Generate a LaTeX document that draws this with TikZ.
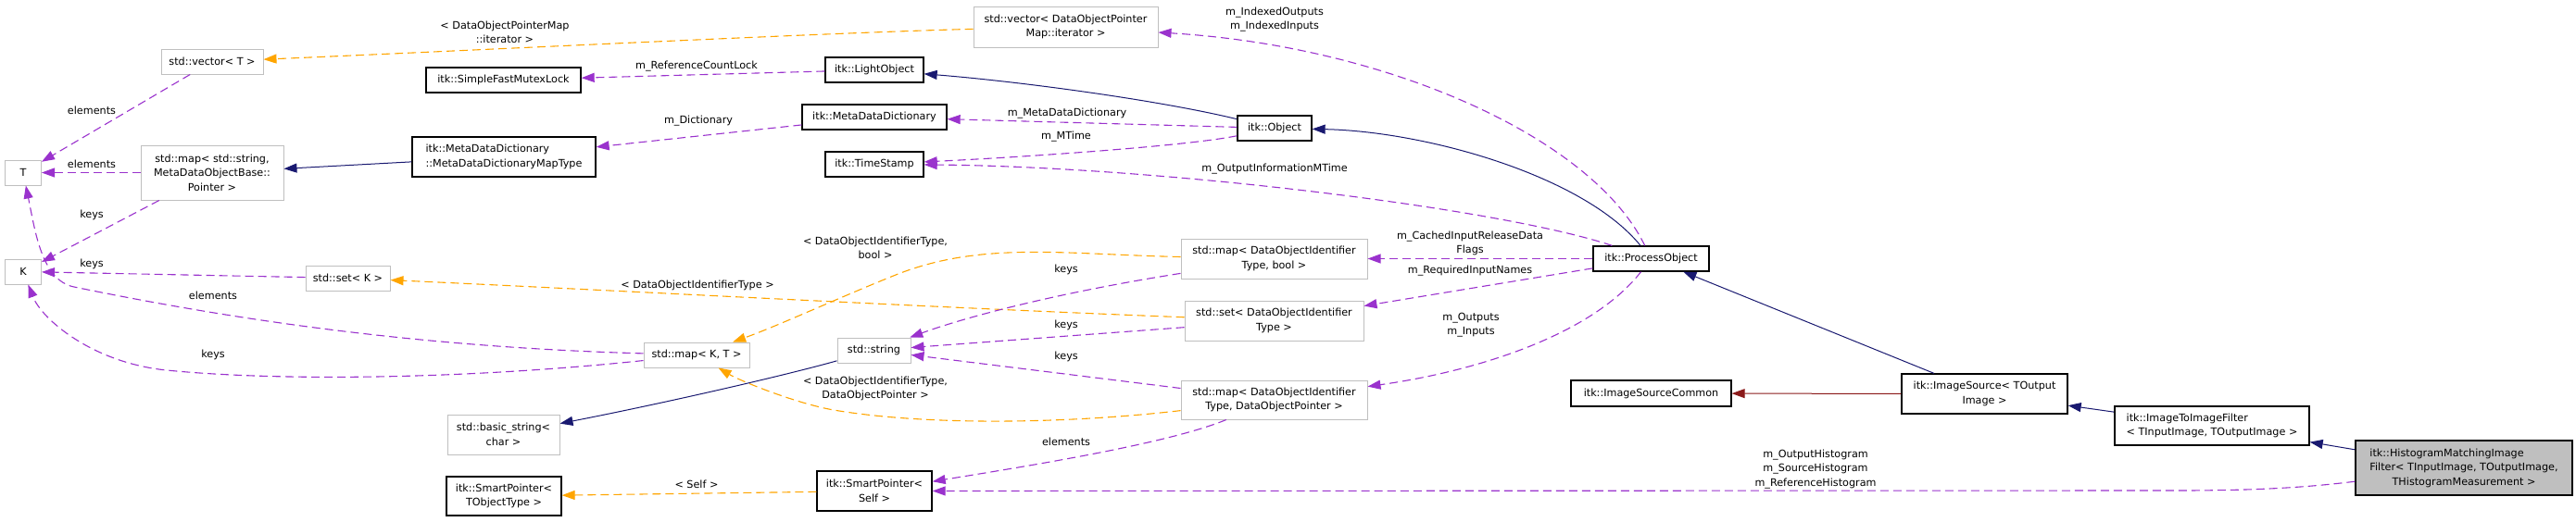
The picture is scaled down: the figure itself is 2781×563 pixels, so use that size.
\documentclass[tikz,border=0pt]{standalone}
\usepackage{fontspec}
\setmainfont{DejaVu Sans}
\usetikzlibrary{arrows.meta}
\definecolor{inhblue}{HTML}{191970}
\definecolor{usepurple}{HTML}{9A32CD}
\definecolor{tmplorange}{HTML}{FFA500}
\definecolor{privred}{HTML}{8B1A1A}
\definecolor{undocgray}{HTML}{BFBFBF}
\newcommand{\dfont}{\fontsize{11.2pt}{15.6pt}\selectfont}
\tikzset{
  lbl/.style={font=\dfont, inner sep=0pt, align=center},
  cls/.style={draw=black, line width=1.3pt, font=\dfont, inner sep=0pt, align=center},
  ucls/.style={draw=undocgray, line width=1pt, font=\dfont, inner sep=0pt, align=center},
  tip/.style={-{Triangle[length=14pt,width=10pt]}},
  inh/.style={draw=inhblue, line width=1pt, tip},
  priv/.style={draw=privred, line width=1pt, tip},
  usage/.style={draw=usepurple, line width=1.1pt, dash pattern=on 9pt off 5pt, tip},
  tmpl/.style={draw=tmplorange, line width=1.1pt, dash pattern=on 9pt off 5pt, tip},
}
\begin{document}
\begin{tikzpicture}[x=1pt,y=-1pt]
\useasboundingbox (0,0) rectangle (2781,563);
% ---- nodes ----
\node[ucls, minimum width=110pt, minimum height=27pt] (vecT) at (229,66.5) {std::vector< T >};
\node[ucls, minimum width=39pt, minimum height=27pt] (T) at (25,186.5) {T};
\node[ucls, minimum width=39pt, minimum height=27pt] (K) at (25,293.5) {K};
\node[ucls, minimum width=154pt, minimum height=59pt] (mapSS) at (229,186.5) {std::map< std::string,\\MetaDataObjectBase::\\Pointer >};
\node[cls, minimum width=167pt, minimum height=27pt] (SFML) at (543.5,86.5) {itk::SimpleFastMutexLock};
\node[cls, minimum width=198pt, minimum height=43pt, align=left] (MapType) at (544,169.5) {itk::MetaDataDictionary\\::MetaDataDictionaryMapType};
\node[ucls, minimum width=91pt, minimum height=27pt] (setK) at (375.5,300.5) {std::set< K >};
\node[ucls, minimum width=121pt, minimum height=43pt] (basicstr) at (543.5,469.5) {std::basic\_string<\\char >};
\node[cls, minimum width=124pt, minimum height=42pt] (SPT) at (544,536) {itk::SmartPointer<\\TObjectType >};
\node[ucls, minimum width=199pt, minimum height=44pt] (vecDOPM) at (1150.5,29) {std::vector< DataObjectPointer\\Map::iterator >};
\node[cls, minimum width=106pt, minimum height=27pt] (LightObject) at (944,75.5) {itk::LightObject};
\node[cls, minimum width=156pt, minimum height=27pt] (MDD) at (944,126.5) {itk::MetaDataDictionary};
\node[cls, minimum width=106pt, minimum height=27pt] (TimeStamp) at (944,177.5) {itk::TimeStamp};
\node[ucls, minimum width=114pt, minimum height=27pt] (mapKT) at (752,383.5) {std::map< K, T >};
\node[ucls, minimum width=79pt, minimum height=27pt] (string) at (943.5,378.5) {std::string};
\node[cls, minimum width=124pt, minimum height=43pt] (SPS) at (944,530.5) {itk::SmartPointer<\\Self >};
\node[cls, minimum width=80pt, minimum height=27pt] (Object) at (1376,138.5) {itk::Object};
\node[ucls, minimum width=201pt, minimum height=43pt] (mapDB) at (1375.5,279.5) {std::map< DataObjectIdentifier\\Type, bool >};
\node[ucls, minimum width=193pt, minimum height=43pt] (setD) at (1375.5,346.5) {std::set< DataObjectIdentifier\\Type >};
\node[ucls, minimum width=201pt, minimum height=42pt] (mapDP) at (1375.5,432) {std::map< DataObjectIdentifier\\Type, DataObjectPointer >};
\node[cls, minimum width=125pt, minimum height=27pt] (PO) at (1782.5,279.5) {itk::ProcessObject};
\node[cls, minimum width=173pt, minimum height=28pt] (ISC) at (1782.5,425) {itk::ImageSourceCommon};
\node[cls, minimum width=179pt, minimum height=43pt] (IS) at (2142.5,425.5) {itk::ImageSource< TOutput\\Image >};
\node[cls, minimum width=210pt, minimum height=42pt, align=left] (I2I) at (2388,460) {itk::ImageToImageFilter\\< TInputImage, TOutputImage >};
\node[cls, fill=undocgray, minimum width=234pt, minimum height=59pt] (Hist) at (2660,505.5) {\begin{tabular}{@{}l@{}}itk::HistogramMatchingImage\\Filter< TInputImage, TOutputImage,\\\multicolumn{1}{@{}c@{}}{THistogramMeasurement >}\end{tabular}};
% ---- edges ----
\draw[tmpl] (vecDOPM) .. controls (900,35) and (500,55) .. (vecT);
\draw[usage] (vecT) -- (T);
\draw[usage] (mapSS) -- (T);
\draw[usage] (mapSS) -- (K);
\draw[usage] (setK) -- (K);
\draw[usage] (mapKT) .. controls (450,375) and (250,345) .. (80,310) .. controls (45,303) and (38,250) .. (T);
\draw[usage] (mapKT) .. controls (500,410) and (300,412) .. (180,400) .. controls (100,392) and (45,345) .. (K);
\draw[tmpl] (setD) .. controls (1000,332) and (650,313) .. (setK);
\draw[tmpl] (mapDB) .. controls (1150,275) and (1060,260) .. (967,297) .. controls (907,321) and (840,352) .. (mapKT);
\draw[tmpl] (mapDP) .. controls (1150,458) and (1000,460) .. (900,443) .. controls (860,436) and (800,412) .. (mapKT);
\draw[usage] (mapDB) .. controls (1150,315) and (1050,340) .. (string);
\draw[usage] (setD) -- (string);
\draw[usage] (mapDP) -- (string);
\draw[inh] (string) .. controls (850,405) and (720,435) .. (basicstr);
\draw[usage] (mapDP) .. controls (1260,480) and (1100,505) .. (SPS);
\draw[tmpl] (SPS) -- (SPT);
\draw[usage] (Hist) .. controls (2480,528) and (2420,530) .. (2350,530) -- (SPS);
\draw[inh] (Hist) -- (I2I);
\draw[inh] (I2I) -- (IS);
\draw[priv] (IS) -- (ISC);
\draw[inh] (IS) -- (PO);
\draw[inh] (PO) .. controls (1710,190) and (1540,142) .. (Object);
\draw[usage] (PO) .. controls (1720,150) and (1500,50) .. (vecDOPM);
\draw[usage] (PO) .. controls (1620,225) and (1250,180) .. (TimeStamp);
\draw[usage] (PO) -- (mapDB);
\draw[usage] (PO) -- (setD);
\draw[usage] (PO) .. controls (1720,360) and (1600,400) .. (mapDP);
\draw[inh] (Object) .. controls (1250,108) and (1100,88) .. (LightObject);
\draw[usage] (Object) -- (MDD);
\draw[usage] (Object) .. controls (1280,158) and (1100,170) .. (TimeStamp);
\draw[usage] (LightObject) -- (SFML);
\draw[usage] (MDD) -- (MapType);
\draw[inh] (MapType) -- (mapSS);
% ---- labels ----
\node[lbl] (l1) at (545,35) {< DataObjectPointerMap\\::iterator >};
\node[lbl] (l2) at (99,119) {elements};
\node[lbl] (l3) at (99,177) {elements};
\node[lbl] (l4) at (99,232) {keys};
\node[lbl] (l5) at (99,285) {keys};
\node[lbl] (l6) at (230,319) {elements};
\node[lbl] (l7) at (230,383) {keys};
\node[lbl] (l8) at (752,72) {m\_ReferenceCountLock};
\node[lbl] (l9) at (754,131) {m\_Dictionary};
\node[lbl] (l10) at (753,308) {< DataObjectIdentifierType >};
\node[lbl] (l11) at (945,268) {< DataObjectIdentifierType,\\bool >};
\node[lbl] (l12) at (945,420) {< DataObjectIdentifierType,\\DataObjectPointer >};
\node[lbl] (l13) at (752,523) {< Self >};
\node[lbl] (l14) at (1151,291) {keys};
\node[lbl] (l15) at (1151,351) {keys};
\node[lbl] (l16) at (1151,385) {keys};
\node[lbl] (l17) at (1151,477) {elements};
\node[lbl] (l18) at (1152,123) {m\_MetaDataDictionary};
\node[lbl] (l19) at (1151,148) {m\_MTime};
\node[lbl] (l20) at (1376,21) {m\_IndexedOutputs\\m\_IndexedInputs};
\node[lbl] (l21) at (1376,183) {m\_OutputInformationMTime};
\node[lbl] (l22) at (1587,263) {m\_CachedInputReleaseData\\Flags};
\node[lbl] (l23) at (1587,293) {m\_RequiredInputNames};
\node[lbl] (l24) at (1588,351) {m\_Outputs\\m\_Inputs};
\node[lbl] (l25) at (1960,507) {m\_OutputHistogram\\m\_SourceHistogram\\m\_ReferenceHistogram};
\end{tikzpicture}
\end{document}
